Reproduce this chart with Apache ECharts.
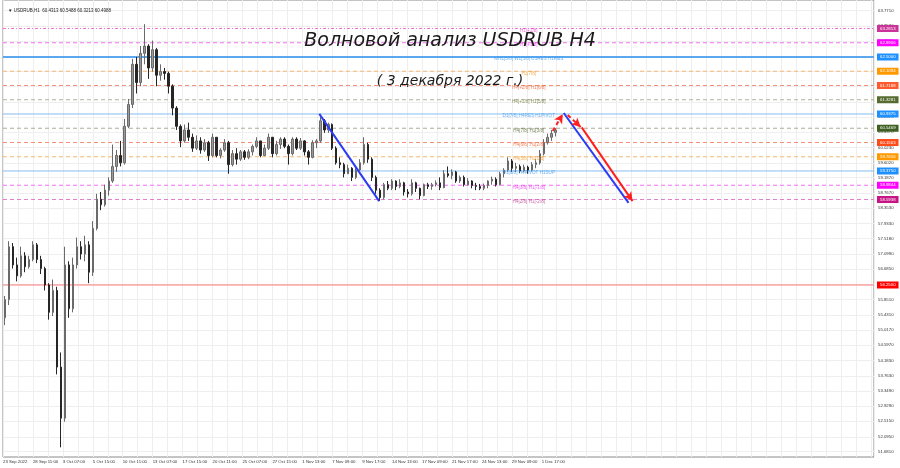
<!DOCTYPE html>
<html><head><meta charset="utf-8">
<script src="https://cdn.jsdelivr.net/npm/echarts@6/dist/echarts.min.js"></script>
<style>html,body{margin:0;padding:0;background:#fff}#c{width:900px;height:468px}</style>
</head><body><div id="c"></div>
<script>
// ---- price bars (USDRUB H1, compressed) ----
const opens=[55.35,55.85,57.3,56.8,56.5,57.05,56.75,56.95,57.35,56.95,
56.7,56.25,55.5,56.1,54.0,52.6,56.8,55.6,56.8,57.3,
57.1,57.35,56.6,57.8,58.6,58.45,58.85,59.1,59.5,59.8,
59.6,60.6,61.2,62.3,61.8,62.6,62.8,62.2,62.7,62.0,
62.1,62.05,61.7,61.1,60.6,60.2,60.5,60.3,60.0,60.2,
59.95,60.15,59.8,60.3,59.8,59.95,60.15,59.55,59.85,59.7,
59.9,59.75,59.9,60.05,60.2,59.8,60.0,60.3,59.85,60.1,
60.25,60.05,59.85,60.25,60.0,60.2,59.9,59.75,60.15,60.2,
60.75,60.5,60.65,60.0,59.6,59.55,59.3,59.45,59.2,59.4,
59.6,60.1,59.7,59.2,58.85,58.65,59.0,58.9,59.1,58.95,
59.05,58.8,58.75,59.05,58.9,58.7,59.0,58.95,59.0,59.05,
58.92,59.3,59.25,59.35,59.1,59.2,59.0,59.1,58.98,58.95,
58.9,58.98,59.1,59.15,59.0,59.3,59.4,59.65,59.45,59.5,
59.38,59.48,59.4,59.55,59.6,59.85,60.15,60.3,60.4313];
const closes=[55.85,57.3,56.8,56.5,57.05,56.75,56.95,57.35,56.95,56.7,
56.25,55.5,56.1,54.0,52.6,56.8,55.6,56.8,57.3,57.1,
57.35,56.6,57.8,58.6,58.45,58.85,59.1,59.5,59.8,59.6,
60.6,61.2,62.3,61.8,62.6,62.8,62.2,62.7,62.0,62.1,
62.05,61.7,61.1,60.6,60.2,60.5,60.3,60.0,60.2,59.95,
60.15,59.8,60.3,59.8,59.95,60.15,59.55,59.85,59.7,59.9,
59.75,59.9,60.05,60.2,59.8,60.0,60.3,59.85,60.1,60.25,
60.05,59.85,60.25,60.0,60.2,59.9,59.75,60.15,60.2,60.75,
60.5,60.65,60.0,59.6,59.55,59.3,59.45,59.2,59.4,59.6,
60.1,59.7,59.2,58.85,58.65,59.0,58.9,59.1,58.95,59.05,
58.8,58.75,59.05,58.9,58.7,59.0,58.95,59.0,59.05,58.92,
59.3,59.25,59.35,59.1,59.2,59.0,59.1,58.98,58.95,58.9,
58.98,59.1,59.15,59.0,59.3,59.4,59.65,59.45,59.5,59.38,
59.48,59.4,59.55,59.6,59.85,60.15,60.3,60.4,60.4988];
const lows=[55.15,55.7,56.7,56.35,56.45,56.6,56.7,56.9,56.85,56.55,
56.1,55.3,55.4,53.8,51.8,52.5,55.35,55.5,56.7,56.95,
56.9,56.3,56.5,57.75,58.3,58.4,58.7,59.05,59.35,59.5,
59.55,60.55,61.1,61.5,61.7,62.3,61.9,62.1,61.7,61.85,
61.88,61.5,60.9,60.5,60.03,60.15,60.2,59.9,59.95,59.85,
59.9,59.65,59.75,59.75,59.72,59.9,59.3,59.5,59.55,59.65,
59.68,59.7,59.8,60.0,59.75,59.78,59.95,59.75,59.8,59.98,
60.0,59.55,59.8,59.95,59.95,59.8,59.55,59.72,60.0,60.15,
60.42,60.42,59.95,59.55,59.45,59.2,59.3,59.1,59.15,59.38,
59.55,59.6,59.1,58.75,58.55,58.6,58.85,58.85,58.85,58.9,
58.7,58.65,58.7,58.8,58.6,58.68,58.88,58.86,58.95,58.85,
58.9,59.2,59.15,59.05,59.05,58.95,58.98,58.9,58.85,58.85,
58.85,58.9,59.0,58.95,58.98,59.2,59.35,59.35,59.35,59.32,
59.35,59.3,59.36,59.45,59.55,59.8,60.1,60.2,60.3213];
const highs=[55.95,57.45,57.4,57.0,57.3,57.15,57.05,57.45,57.4,57.05,
56.75,56.3,56.4,56.2,54.4,57.3,56.9,57.0,57.55,57.45,
57.6,57.45,58.0,58.75,58.8,59.0,59.2,60.1,59.95,60.2,
60.8,61.35,62.45,62.5,62.8,63.4,62.85,62.95,62.75,62.3,
62.2,62.1,61.75,61.15,60.65,60.65,60.7,60.4,60.35,60.3,
60.25,60.2,60.4,60.3,60.0,60.25,60.2,59.95,60.0,59.95,
59.95,59.97,60.1,60.3,60.2,60.1,60.4,60.3,60.2,60.3,
60.3,60.1,60.3,60.3,60.28,60.22,59.95,60.22,60.25,60.85,
60.8,60.7,60.68,60.05,59.75,59.6,59.55,59.48,59.5,59.7,
60.3,60.15,59.75,59.25,58.9,59.05,59.1,59.15,59.12,59.15,
59.08,58.88,59.15,59.08,58.92,59.03,59.05,59.05,59.12,59.2,
59.4,59.5,59.42,59.38,59.25,59.25,59.18,59.12,59.05,59.02,
59.03,59.12,59.22,59.2,59.35,59.45,59.75,59.7,59.6,59.55,
59.55,59.52,59.62,59.7,59.95,60.25,60.4,60.5,60.5488];

// ---- axis ticks ----
const yTickValues=[51.681,52.095,52.515,52.929,53.349,53.763,54.183,54.597,55.017,55.431,
55.851,56.265,56.685,57.099,57.518,57.933,58.353,58.767,59.187,59.602,
60.023,60.437,60.857,61.271,61.691,62.105,62.525,62.939,63.352,63.771];
const xTickPos=[0,7.5,15,22.5,30,37.5,45,52.5,60,67.5,75,82.5,90,97.5,105,112.5,120,127.5,135];
const xTickLabels=["23 Sep 2022","28 Sep 11:00","3 Oct 07:00","5 Oct 15:00","10 Oct 11:00","13 Oct 07:00",
"17 Oct 15:00","20 Oct 11:00","25 Oct 07:00","27 Oct 15:00","1 Nov 13:00","7 Nov 09:00","9 Nov 17:00",
"14 Nov 13:00","17 Nov 09:00","21 Nov 17:00","24 Nov 13:00","29 Nov 09:00","1 Dec 17:00"];

// ---- Murrey levels ----
const levelPrices=[63.2813,62.8906,62.5000,62.1094,61.7188,61.3281,60.9375,60.5469,60.1563,59.7656,59.3750,58.9844,58.5938,56.2500];
const levelTexts=["H1[+2/8]","H1[+1/8]","MN1[5/8] W1[5/8] D1RES H1RES","H1[7/8]","H4[+2/8] H1[6/8]","H4[+1/8] H1[5/8]",
"D1[7/8] H4RES H1PIVOT","H4[7/8] H1[3/8]","H4[6/8] H1[2/8]","H4[5/8] H1[1/8]","D1[6/8] H4PIVOT H1SUP","H4[3/8] H1[-1/8]","H4[2/8] H1[-2/8]",""];

// ---- wave annotations (bar index, price) ----
const waveBlueA=[[79.25,60.94],[94.25,58.55]];
const waveBlueB=[[140.5,60.965],[156.75,58.50]];
const redDashUp=[[137.75,60.47],[140.25,60.93]];
const redDashDown=[[141.5,60.91],[144.75,60.58]];
const redSolid=[[145.0,60.57],[157.75,58.55]];

// ---- styles ----
const levelLineStyles=[
 {color:'#ee70d2',type:[3,2,1,2],width:1},
 {color:'#f56ef5',type:[4,3],width:1},
 {color:'#5ca8ef',type:'solid',width:2},
 {color:'#f5b872',type:[4,3],width:1},
 {color:'#f39079',type:[4,3],width:1},
 {color:'#b2b297',type:[4,3],width:1},
 {color:'#86bff2',type:'solid',width:1},
 {color:'#adad98',type:[4,3],width:1},
 {color:'#f39079',type:[4,3],width:1},
 {color:'#f5b872',type:[4,3],width:1},
 {color:'#86bff2',type:'solid',width:1},
 {color:'#f56ef5',type:[4,3],width:1},
 {color:'#e27fcb',type:[4,3],width:1},
 {color:'#ff7a7a',type:'solid',width:1}];
const tagColors=['#cc3399','#ff00ff','#1e90ff','#ff9900','#ff5a2d','#556b2f','#1e90ff','#3f5f22','#ff4a1a','#ff9900','#1e90ff','#ff00ff','#c71585','#ff0000'];
const textColors=['#ee44cc','#ee33ee','#3f9cf0','#f39a2a','#f2602e','#6b7a3a','#3f9cf0','#55652f','#f2602e','#f39a2a','#3f9cf0','#ee33ee','#c0409a',''];
const labelX=131.75;
const X_MIN=0, X_MAX=218.25;

const chart=echarts.init(document.getElementById('c'),null,{renderer:'canvas'});
const candleData=opens.map((o,i)=>[i+0.5,o,closes[i],lows[i],highs[i]]);
const seg=(a,style,arrowEnd)=>[{coord:a[0],symbol:'none',lineStyle:style},{coord:a[1],symbol:arrowEnd?'arrow':'none'}];
const blueStyle={color:'#2b3cf5',width:2,type:'solid'};
const redStyle={color:'#ff1f1f',width:2,type:'solid'};
const redDash={color:'#ff1f1f',width:2,type:[4,3]};

// level lines as plain line series spanning the x range; price tag as endLabel
const levelSeries=levelPrices.map((p,i)=>({
 type:'line',data:[[X_MIN,p],[X_MAX,p]],silent:true,z:2,showSymbol:false,symbol:'none',clip:false,
 color:levelLineStyles[i].color,
 lineStyle:levelLineStyles[i],
 endLabel:{show:true,distance:3,formatter:p.toFixed(4),fontSize:4.3,color:'#fff',
   backgroundColor:tagColors[i],padding:[1.6,3,1.4,3],fontFamily:'Liberation Sans'}
}));

chart.setOption({
 animation:false,
 backgroundColor:'#fff',
 title:[
  {text:'\u25BC USDRUB,H1  60.4313 60.5488 60.3213 60.4988',left:3,top:3,textStyle:{fontSize:4.5,fontWeight:'normal',color:'#222',fontFamily:'Liberation Sans'}},
  {text:'Волновой анализ USDRUB H4',left:'center',top:27,textStyle:{fontSize:19,fontStyle:'italic',fontWeight:'normal',color:'#1a1a1a',fontFamily:'DejaVu Sans'}},
  {text:'( 3 декабря 2022 г.)',left:'center',top:69,textStyle:{fontSize:14,fontStyle:'italic',fontWeight:'normal',color:'#1a1a1a',fontFamily:'DejaVu Sans'}}
 ],
 grid:{left:1,right:26,top:0,bottom:11,show:true,borderColor:'#8a8a8a',borderWidth:1,backgroundColor:'#fff'},
 xAxis:{type:'value',min:X_MIN,max:X_MAX,interval:3.75,
  axisLine:{show:false},axisTick:{show:false},
  splitLine:{show:true,lineStyle:{color:'#eeeeee',width:1}},
  axisLabel:{customValues:xTickPos,margin:3,fontSize:4.3,color:'#333',align:'left',fontFamily:'Liberation Sans',
   formatter:(v)=>{const k=xTickPos.indexOf(v);return k>=0?xTickLabels[k]:'';}}},
 yAxis:{type:'value',position:'right',min:51.535,max:64.0625,
  axisLine:{show:false},axisTick:{show:false},splitLine:{show:false},
  axisLabel:{customValues:yTickValues,margin:4,fontSize:4.3,color:'#333',fontFamily:'Liberation Sans',
   formatter:(v)=>v.toFixed(4)}},
 series:[
  {type:'line',data:[],silent:true,z:0,
   markLine:{silent:true,symbol:'none',animation:false,label:{show:false},z:0,
    lineStyle:{color:'#eeeeee',type:'solid',width:1},
    data:yTickValues.map(v=>({yAxis:v}))}},
  ...levelSeries,
  {type:'candlestick',data:candleData,encode:{x:0,y:[1,2,3,4]},barWidth:2,z:3,silent:true,
   itemStyle:{color:'#9a9a9a',color0:'#262626',borderColor:'#6a6a6a',borderColor0:'#262626',borderWidth:1}},
  {type:'scatter',z:4,silent:true,symbolSize:0,
   data:levelPrices.map((p,i)=>({value:[labelX,p],name:levelTexts[i],
     label:{show:levelTexts[i]!=='',position:'inside',offset:[0,2],formatter:'{b}',fontSize:4.6,color:textColors[i]||'#000',fontFamily:'Liberation Sans'}}))},
  {type:'line',data:[],silent:true,z:5,
   markLine:{silent:true,animation:false,symbolSize:[7,9],label:{show:false},
    data:[seg(waveBlueA,blueStyle,false),seg(waveBlueB,blueStyle,false),
          seg(redDashUp,redDash,true),seg(redDashDown,redDash,true),seg(redSolid,redStyle,true)]}}
 ]
});
</script></body></html>
